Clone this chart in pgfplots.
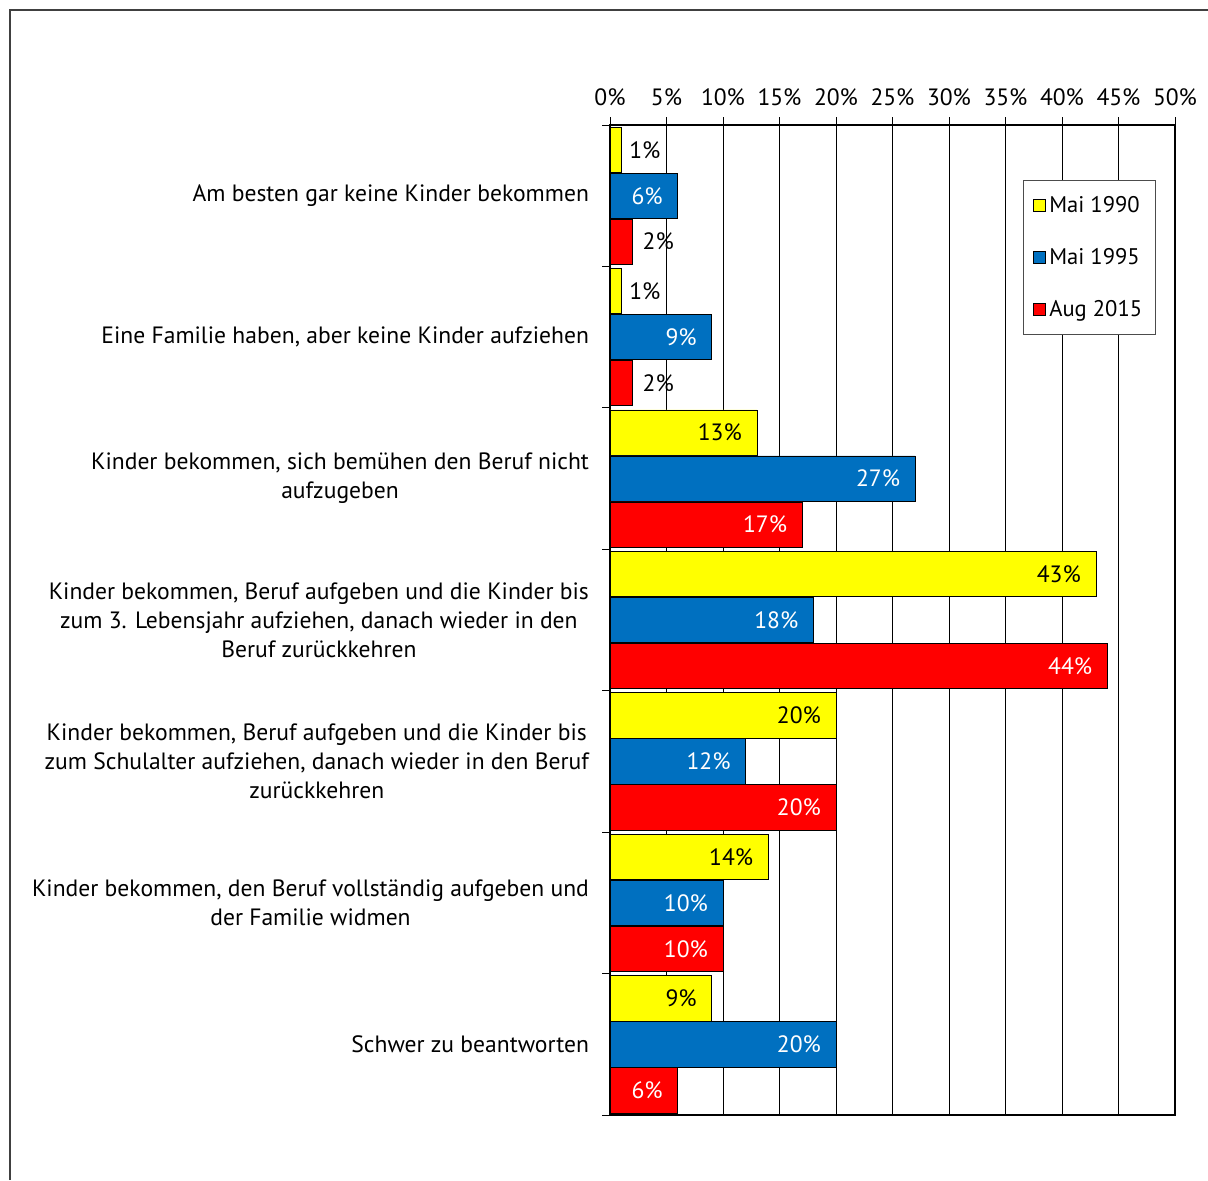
\documentclass[border=0pt]{standalone}
\usepackage{pgfplots}
\pgfplotsset{compat=1.18}
\usepackage{fontspec}
\setmainfont{PT Sans}
\definecolor{cyel}{HTML}{FFFF00}
\definecolor{cblu}{HTML}{0070C0}
\definecolor{cred}{HTML}{FF0000}
\begin{document}
\begin{tikzpicture}[x=1pt,y=1pt]
\useasboundingbox (0,0) rectangle (604,590);
\draw[black!75, line width=0.8pt] (5,0) -- (5,585) -- (604,585);
\begin{axis}[
 at={(305pt,32.5pt)}, anchor=south west,
 scale only axis, width=282.5pt, height=495pt,
 xbar, bar width=0.32,
 /pgf/number format/assume math mode=true,
 font=\fontsize{11.8}{14.5}\selectfont,
 xmin=0, xmax=50, xtick={0,5,...,50},
 xticklabel={\pgfmathprintnumber{\tick}\%},
 xticklabel style={yshift=2pt},
 xtick pos=upper, xticklabel pos=upper,
 tick align=outside, major tick length=4pt,
 xmajorgrids=true,
 major grid style={black, line width=0.5pt},
 axis line style={black, line width=0.6pt},
 tick style={black, line width=0.5pt},
 ymin=-0.5, ymax=6.5, y dir=reverse,
 ytick={-0.5,0.5,...,6.5}, yticklabels={},
 ytick pos=left,
 extra y ticks={0,1,2,3,4,5,6},
 extra y tick style={major tick length=0pt, grid=none},
 extra y tick labels={
  Am besten gar keine Kinder bekommen,
  {Eine Familie haben, aber keine Kinder aufziehen},
  {Kinder bekommen, sich bemühen den Beruf nicht\\aufzugeben},
  {Kinder bekommen, Beruf aufgeben und die Kinder bis\\zum 3. Lebensjahr aufziehen, danach wieder in den\\Beruf zurückkehren},
  {Kinder bekommen, Beruf aufgeben und die Kinder bis\\zum Schulalter aufziehen, danach wieder in den Beruf\\zurückkehren},
  {Kinder bekommen, den Beruf vollständig aufgeben und\\der Familie widmen},
  Schwer zu beantworten},
 yticklabel style={align=center, xshift=-7pt},
 nodes near coords={\pgfmathprintnumber{\pgfplotspointmeta}\%},
 legend style={at={(axis description cs:0.731,0.944)}, anchor=north west,
   draw=black!70, line width=0.5pt, row sep=12.5pt, inner xsep=4.5pt, inner ysep=5.5pt,
   font=\fontsize{11.3}{14}\selectfont},
 legend cell align=left,
 mylegend/.style={legend image code/.code={\draw[##1, draw=black, line width=0.4pt] (0pt,-3pt) rectangle (6pt,3pt);}},
]
\addplot[fill=cyel, draw=black, line width=0.4pt, bar shift=-0.325, mylegend,
  nodes near coords style={anchor=east, xshift=-4pt, text=black}]
  coordinates {(13,2) (43,3) (20,4) (14,5) (9,6)};
\addlegendentry{Mai 1990}
\addplot[fill=cblu, draw=black, line width=0.4pt, bar shift=0, mylegend,
  nodes near coords style={anchor=east, xshift=-4pt, text=white}]
  coordinates {(6,0) (9,1) (27,2) (18,3) (12,4) (10,5) (20,6)};
\addlegendentry{Mai 1995}
\addplot[fill=cred, draw=black, line width=0.4pt, bar shift=0.325, mylegend,
  nodes near coords style={anchor=east, xshift=-4pt, text=white}]
  coordinates {(17,2) (44,3) (20,4) (10,5) (6,6)};
\addlegendentry{Aug 2015}
\addplot[forget plot, fill=cyel, draw=black, line width=0.4pt, bar shift=-0.325,
  nodes near coords style={anchor=west, xshift=0.5pt, text=black}]
  coordinates {(1,0) (1,1)};
\addplot[forget plot, fill=cred, draw=black, line width=0.4pt, bar shift=0.325,
  nodes near coords style={anchor=west, xshift=1.5pt, text=black}]
  coordinates {(2,0) (2,1)};
\end{axis}
\end{tikzpicture}
\end{document}
